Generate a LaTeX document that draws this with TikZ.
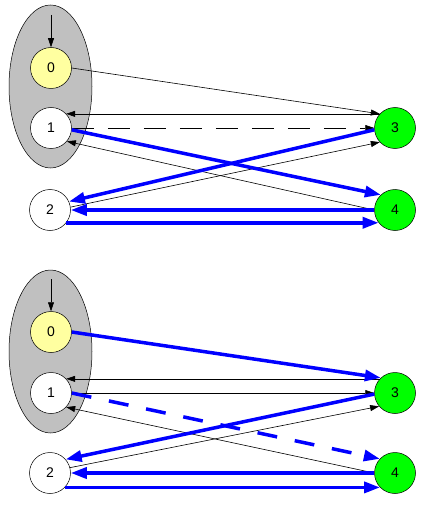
\documentclass[tikz,border=0pt]{standalone}
\usepackage{fontspec}
\setmainfont{Liberation Sans}
\usepackage{tikz}
\usetikzlibrary{arrows.meta,shapes.geometric}

\definecolor{stateyellow}{RGB}{255,255,160}
\definecolor{stategreen}{RGB}{0,255,0}
\definecolor{groupgray}{RGB}{192,192,192}

\begin{document}
\begin{tikzpicture}[
    x=1pt, y=-1pt,
    state/.style={draw, circle, minimum size=41pt, inner sep=0pt, line width=0.5pt,
                  fill=white, font=\fontsize{14}{16}\selectfont},
    group/.style={draw, ellipse, fill=groupgray, minimum width=83pt,
                  minimum height=163pt, line width=0.5pt},
    thin/.style={-{Triangle[length=9pt,width=6pt]}, line width=0.6pt},
    fat/.style={-{Triangle[length=16pt,width=11pt]}, draw=blue, line width=3.5pt}
]
    \useasboundingbox (0,0) rectangle (423,505);

    % upper automaton
    \node[group] (topgrp) at (50.5,86.5) {};
    \node[state, fill=stateyellow] (top0) at (51,68) {0};
    \node[state] (top1) at (51,128) {1};
    \node[state] (top2) at (50,210) {2};
    \node[state, fill=stategreen] (top3) at (395,128) {3};
    \node[state, fill=stategreen] (top4) at (395,210) {4};
    \coordinate (topstart) at (51,15);

    \draw[thin] (topstart) -- (top0.north);
    \draw[thin] (top0.east) -- (top3.137);
    \draw[thin] (top3.137) -- (top1.43);
    \draw[thin, dash pattern=on 22pt off 14pt] (top1.east) -- (top3.west);
    \draw[thin] (top2.8) -- (top3.-137);
    \draw[thin] (top4.west) -- (top1.-40);
    \draw[fat] (top1.-5) -- (top4.133);
    \draw[fat] (top3.185) -- (top2.24);
    \draw[fat] (top4.west) -- (top2.east);
    \draw[fat] (top2.-38) -- (top4.-142);

    % lower automaton
    \node[group] (botgrp) at (50.5,351.5) {};
    \node[state, fill=stateyellow] (bot0) at (51,332) {0};
    \node[state] (bot1) at (51,393) {1};
    \node[state] (bot2) at (50,473) {2};
    \node[state, fill=stategreen] (bot3) at (395,393) {3};
    \node[state, fill=stategreen] (bot4) at (395,473) {4};
    \coordinate (botstart) at (51,279);

    \draw[thin] (botstart) -- (bot0.north);
    \draw[thin] (bot3.137) -- (bot1.43);
    \draw[thin] (bot1.east) -- (bot3.west);
    \draw[thin] (bot2.15) -- (bot3.-140);
    \draw[thin] (bot4.west) -- (bot1.-43);
    \draw[fat] (bot0.east) -- (bot3.133);
    \draw[fat, dash pattern=on 20pt off 18pt] (bot1.east) -- (bot4.137);
    \draw[fat] (bot3.183) -- (bot2.41);
    \draw[fat] (bot4.west) -- (bot2.east);
    \draw[fat] (bot2.-44) -- (bot4.-136);
\end{tikzpicture}
\end{document}
